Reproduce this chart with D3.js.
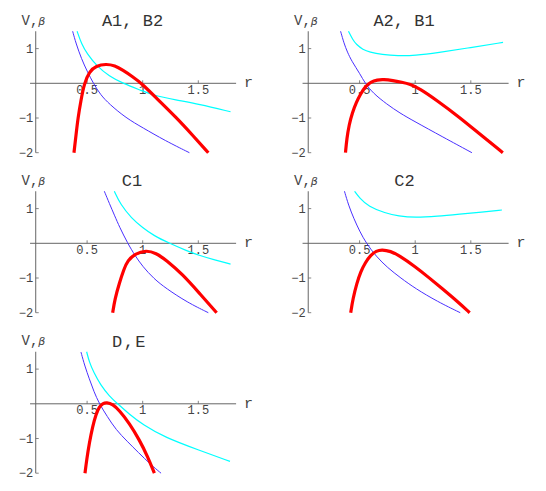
<!DOCTYPE html>
<html><head><meta charset="utf-8">
<script src="https://cdn.jsdelivr.net/npm/d3@7"></script>
<style>body{margin:0;background:#fff}svg{display:block}</style>
</head><body>
<svg id="c" width="546" height="491"></svg>
<script>
// ---- data: [r, value] ----
const titles = ["A1, B2", "A2, B1", "C1", "C2", "D,E"];
const xTicks = [0.5, 1, 1.5];
const xTickLabels = ["0.5", "1", "1.5"];
const yTicks = [-2, -1, 1];
const yTickLabels = ["\u22122", "\u22121", "1"];

const a1Red  = [[0.382,-2],[0.40,-1.5],[0.418,-1.0],[0.445,-0.48],[0.475,0],[0.52,0.34],[0.58,0.5],[0.67,0.56],[0.75,0.51],[0.82,0.38],[0.91,0.19],[0.99,0],[1.14,-0.48],[1.3,-0.98],[1.45,-1.5],[1.59,-2]];
const a1Blue = [[0.37,1.5],[0.40,1.15],[0.45,0.7],[0.5,0.35],[0.556,0],[0.62,-0.33],[0.7,-0.6],[0.85,-1.0],[1.0,-1.28],[1.2,-1.65],[1.42,-2]];
const a1Cyan = [[0.41,1.5],[0.45,1.13],[0.5,0.85],[0.586,0.5],[0.7,0.2],[0.82,0],[1.0,-0.22],[1.09,-0.34],[1.3,-0.48],[1.5,-0.6],[1.79,-0.82]];

const a2Red  = [[0.373,-2],[0.385,-1.6],[0.405,-1.2],[0.435,-0.85],[0.47,-0.55],[0.51,-0.3],[0.55,-0.1],[0.6,0.04],[0.66,0.1],[0.713,0.11],[0.8,0.08],[0.88,0.03],[0.953,-0.02],[1.043,-0.16],[1.189,-0.48],[1.399,-0.98],[1.579,-1.46],[1.788,-2]];
const a2Blue = [[0.329,1.5],[0.36,1.15],[0.39,0.9],[0.429,0.64],[0.504,0.27],[0.549,0],[0.623,-0.29],[0.744,-0.6],[0.863,-0.86],[0.983,-1.08],[1.25,-1.55],[1.51,-2]];
const a2Cyan = [[0.40,1.5],[0.44,1.25],[0.47,1.12],[0.53,0.97],[0.59,0.9],[0.7,0.83],[0.844,0.79],[1.0,0.8],[1.2,0.88],[1.5,1.03],[1.79,1.18]];

const c1Red  = [[0.73,-2],[0.75,-1.6],[0.79,-1.15],[0.83,-0.75],[0.865,-0.5],[0.93,-0.3],[1.03,-0.2],[1.12,-0.28],[1.21,-0.48],[1.36,-0.9],[1.51,-1.44],[1.665,-2]];
const c1Blue = [[0.655,1.5],[0.7,1.15],[0.75,0.78],[0.79,0.48],[0.865,0],[0.93,-0.35],[1.0,-0.67],[1.1,-1.02],[1.21,-1.3],[1.4,-1.7],[1.59,-2]];
const c1Cyan = [[0.745,1.5],[0.8,1.12],[0.9,0.72],[1.0,0.45],[1.1,0.22],[1.24,0],[1.4,-0.22],[1.5,-0.34],[1.65,-0.48],[1.79,-0.6]];

const c2Red  = [[0.42,-2],[0.44,-1.6],[0.475,-1.15],[0.51,-0.82],[0.55,-0.56],[0.6,-0.34],[0.65,-0.22],[0.70,-0.18],[0.78,-0.23],[0.85,-0.34],[1.0,-0.67],[1.12,-0.98],[1.24,-1.3],[1.37,-1.65],[1.49,-2]];
const c2Blue = [[0.364,1.5],[0.4,1.1],[0.45,0.7],[0.5,0.35],[0.56,0],[0.65,-0.38],[0.75,-0.7],[0.87,-1.0],[1.0,-1.3],[1.2,-1.68],[1.405,-2]];
const c2Cyan = [[0.455,1.5],[0.5,1.3],[0.58,1.06],[0.73,0.87],[0.85,0.78],[1.0,0.74],[1.2,0.78],[1.4,0.84],[1.6,0.9],[1.78,0.96]];

const deRed  = [[0.481,-2],[0.496,-1.62],[0.52,-1.13],[0.55,-0.65],[0.58,-0.3],[0.61,-0.08],[0.64,0.01],[0.676,0.04],[0.73,-0.01],[0.79,-0.19],[0.88,-0.56],[0.97,-1.04],[1.045,-1.52],[1.105,-2]];
const deBlue = [[0.445,1.49],[0.48,1.08],[0.52,0.72],[0.56,0.36],[0.61,0],[0.68,-0.36],[0.76,-0.75],[0.86,-1.08],[0.96,-1.4],[1.075,-1.76],[1.165,-2]];
const deCyan = [[0.496,1.5],[0.52,1.2],[0.56,0.9],[0.62,0.55],[0.7,0.22],[0.775,0],[0.88,-0.3],[1.0,-0.6],[1.2,-0.97],[1.5,-1.33],[1.785,-1.66]];

const panels = [
  {title: titles[0], red: a1Red, blue: a1Blue, cyan: a1Cyan},
  {title: titles[1], red: a2Red, blue: a2Blue, cyan: a2Cyan},
  {title: titles[2], red: c1Red, blue: c1Blue, cyan: c1Cyan},
  {title: titles[3], red: c2Red, blue: c2Blue, cyan: c2Cyan},
  {title: titles[4], red: deRed, blue: deBlue, cyan: deCyan}
];

// ---- layout ----
const offX = [0, 272.5, 0, 272.5, 0];
const offY = [0, 0, 160, 160, 320.5];
const titleCenter = [132.5, 131.5, 132, 132, 129.5];
const titleSpacing = [0, 0, 0, 0, 1.5];
const x = d3.scaleLinear().domain([0, 1]).range([31.5, 142.7]);
const y = d3.scaleLinear().domain([0, 1]).range([83.3, 48.6]);
const xAxisDomain = [-0.013, 1.84];
const yAxisPos = 0.038;
const yDomain = [-2, 1.5];
const axisColor = "#666";
const textColor = "#444";
const mono = "'Liberation Mono', 'DejaVu Sans Mono', monospace";

const svg = d3.select("#c");
const line = d3.line().x(d => x(d[0])).y(d => y(d[1])).curve(d3.curveBasis);

panels.forEach((p, i) => {
  const g = svg.append("g").attr("transform", `translate(${offX[i]},${offY[i]})`);
  // axes
  g.append("line").attr("x1", x(xAxisDomain[0])).attr("x2", x(xAxisDomain[1]))
    .attr("y1", y(0)).attr("y2", y(0)).attr("stroke", axisColor).attr("stroke-width", 1);
  g.append("line").attr("x1", x(yAxisPos)).attr("x2", x(yAxisPos))
    .attr("y1", y(yDomain[0])).attr("y2", y(yDomain[1])).attr("stroke", axisColor).attr("stroke-width", 1);
  // x ticks
  xTicks.forEach((t, k) => {
    g.append("line").attr("x1", x(t)).attr("x2", x(t)).attr("y1", y(0)).attr("y2", y(0) - 3)
      .attr("stroke", axisColor).attr("stroke-width", 0.8);
    g.append("text").attr("x", x(t)).attr("y", y(0) + 10.5).attr("text-anchor", "middle")
      .attr("font-family", mono).attr("font-size", 12).attr("fill", textColor).text(xTickLabels[k]);
  });
  // y ticks
  yTicks.forEach((t, k) => {
    g.append("line").attr("x1", x(yAxisPos)).attr("x2", x(yAxisPos) + 3).attr("y1", y(t)).attr("y2", y(t))
      .attr("stroke", axisColor).attr("stroke-width", 0.8);
    g.append("text").attr("x", x(yAxisPos) - 2.5).attr("y", y(t) + 4).attr("text-anchor", "end")
      .attr("font-family", mono).attr("font-size", 12).attr("fill", textColor).text(yTickLabels[k]);
  });
  // axis labels
  g.append("text").attr("x", x(xAxisDomain[1]) + 8).attr("y", y(0) + 4)
    .attr("font-family", mono).attr("font-size", 15).attr("fill", textColor).text("r");
  const vl = g.append("text").attr("x", 21.5).attr("y", 24.5).attr("fill", textColor);
  vl.append("tspan").attr("font-family", mono).attr("font-size", 14).text("V,");
  vl.append("tspan").attr("font-family", "'DejaVu Sans', sans-serif").attr("font-style", "italic")
    .attr("font-size", 11).text("\u03b2");
  // title
  g.append("text").attr("x", titleCenter[i]).attr("y", 26).attr("text-anchor", "middle")
    .attr("font-family", mono).attr("font-size", 17).attr("letter-spacing", titleSpacing[i])
    .attr("fill", "#333").text(p.title);
  // curves
  g.append("path").datum(p.cyan).attr("d", line).attr("fill", "none").attr("stroke", "#00ffff").attr("stroke-width", 1.2);
  g.append("path").datum(p.blue).attr("d", line).attr("fill", "none").attr("stroke", "#4a30ff").attr("stroke-width", 1);
  g.append("path").datum(p.red).attr("d", line).attr("fill", "none").attr("stroke", "#ff0000").attr("stroke-width", 3.2);
});
</script>
</body></html>
